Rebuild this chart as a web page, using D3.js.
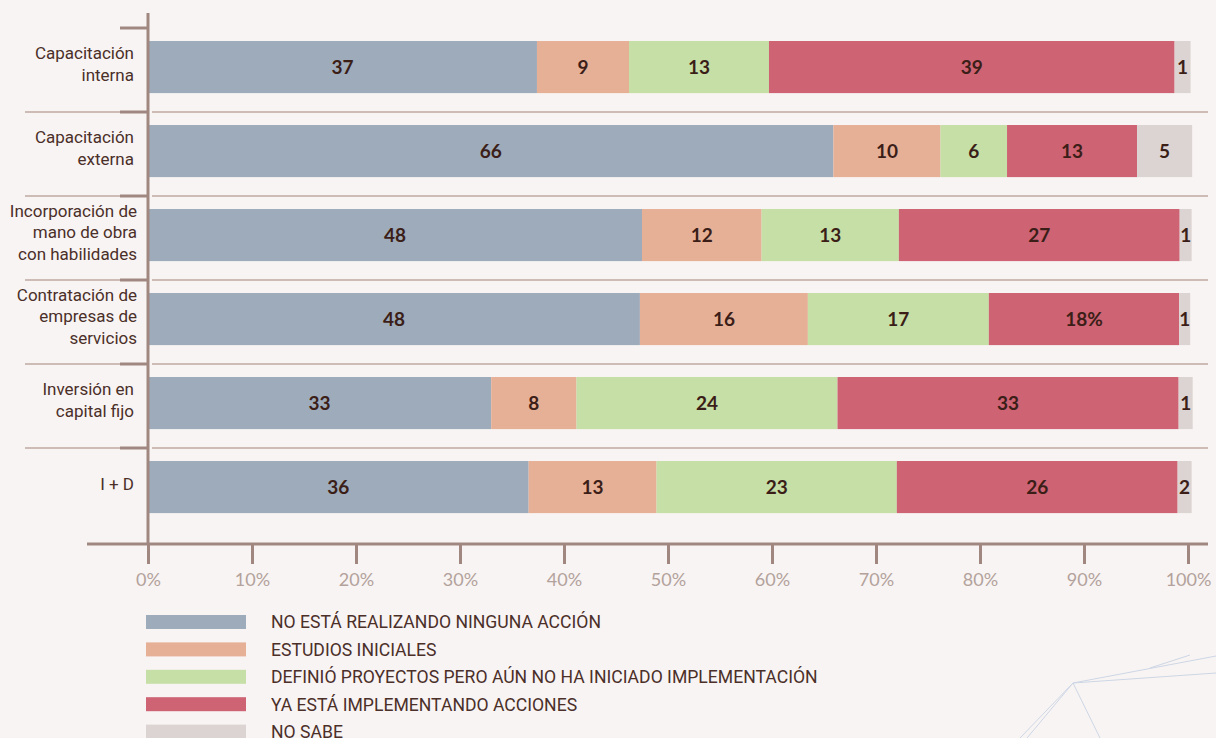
<!DOCTYPE html>
<html>
<head>
<meta charset="utf-8">
<script src="https://cdn.jsdelivr.net/npm/d3@7"></script>
<style>
  body { margin: 0; background: #f8f4f3; }
  svg { display: block; }
</style>
</head>
<body>
<div id="chart-area"></div>
<script>
// categorias (cada una partida en lineas como en el original)
var categories = [
    ["Capacitación", "interna"],
    ["Capacitación", "externa"],
    ["Incorporación de", "mano de obra", "con habilidades"],
    ["Contratación de", "empresas de", "servicios"],
    ["Inversión en", "capital fijo"],
    ["I + D"]
];

var seriesNames = [
    "NO ESTÁ REALIZANDO NINGUNA ACCIÓN",
    "ESTUDIOS INICIALES",
    "DEFINIÓ PROYECTOS PERO AÚN NO HA INICIADO IMPLEMENTACIÓN",
    "YA ESTÁ IMPLEMENTANDO ACCIONES",
    "NO SABE"
];

// largo de cada tramo (%)
var noAccion      = [37.4, 65.9, 47.5, 47.3, 33.0, 36.6];
var estudios      = [8.85, 10.3, 11.5, 16.15, 8.2, 12.3];
var definio       = [13.46, 6.4, 13.2, 17.4, 25.1, 23.1];
var implementando = [39.0, 12.5, 27.0, 18.3, 32.8, 27.0];
var noSabe        = [1.54, 5.3, 1.15, 1.06, 1.35, 1.35];

// numeros impresos dentro de las barras
var noAccionLbl      = ["37", "66", "48", "48", "33", "36"];
var estudiosLbl      = ["9", "10", "12", "16", "8", "13"];
var definioLbl       = ["13", "6", "13", "17", "24", "23"];
var implementandoLbl = ["39", "13", "27", "18%", "33", "26"];
var noSabeLbl        = ["1", "5", "1", "1", "1", "2"];

var xTicks = [0, 10, 20, 30, 40, 50, 60, 70, 80, 90, 100];

var colors = ["#9eabbb", "#e6b097", "#c5dfa6", "#cd6373", "#dcd4d3"];
var keys = ["noAccion", "estudios", "definio", "implementando", "noSabe"];
var allValues = [noAccion, estudios, definio, implementando, noSabe];
var allLabels = [noAccionLbl, estudiosLbl, definioLbl, implementandoLbl, noSabeLbl];

var W = 1216, H = 738;
var axisColor = "#a08880";
var textColor = "#4b2f29";

var svg = d3.select("#chart-area").append("svg")
    .attr("width", W)
    .attr("height", H);

// tabla para d3.stack
var table = categories.map((c, i) => {
    var row = { idx: i };
    keys.forEach((k, j) => { row[k] = allValues[j][i]; });
    return row;
});
var stacked = d3.stack().keys(keys)(table);

var x = d3.scaleLinear().domain([0, 100]).range([148, 1188]);
var y = d3.scaleBand()
    .domain(categories.map((c, i) => i))
    .range([28, 532])
    .paddingInner(0);

var barOffset = y.bandwidth() * 0.155;
var barH = y.bandwidth() * 0.62;
var axisY = 544;

// decoracion de la esquina
var deco = svg.append("g")
    .attr("stroke", "#cdd6e5")
    .attr("stroke-width", 1)
    .attr("fill", "none");
deco.append("path").attr("d", "M1073,683 L1216,656 M1073,683 L1216,673 M1073,683 L1020,738 M1073,683 L1027,738 M1073,683 L1100,738 M1150,668 L1190,655");

// separadores finos entre filas
var seps = y.domain().slice(1);
svg.selectAll(".sep-l").data(seps).enter().append("line")
    .attr("x1", 25).attr("x2", x(0) - 2)
    .attr("y1", d => y(d)).attr("y2", d => y(d))
    .attr("stroke", "#cdbcb6").attr("stroke-width", 2);
svg.selectAll(".sep-r").data(seps).enter().append("line")
    .attr("x1", x(0) + 4).attr("x2", x(100) + 20)
    .attr("y1", d => y(d)).attr("y2", d => y(d))
    .attr("stroke", "#cdbcb6").attr("stroke-width", 2);

// barras apiladas
var groups = svg.selectAll(".serie").data(stacked).enter().append("g")
    .attr("class", "serie")
    .attr("fill", (d, i) => colors[i]);

groups.selectAll("rect").data(d => d).enter().append("rect")
    .attr("x", d => x(d[0]))
    .attr("width", d => x(d[1]) - x(d[0]))
    .attr("y", d => y(d.data.idx) + barOffset)
    .attr("height", barH);

// numeros dentro de las barras
stacked.forEach((s, j) => {
    svg.append("g").selectAll("text").data(s).enter().append("text")
        .attr("x", d => (x(d[0]) + x(d[1])) / 2)
        .attr("y", d => y(d.data.idx) + barOffset + barH / 2)
        .attr("dy", "0.36em")
        .attr("text-anchor", "middle")
        .attr("font-family", "Lato, sans-serif")
        .attr("font-weight", "bold")
        .attr("font-size", "19px")
        .attr("fill", "#3b1e17")
        .text(d => allLabels[j][d.data.idx]);
});

// etiquetas de categorias
var lineH = 21.5;
categories.forEach((lines, i) => {
    var cy = y(i) + barOffset + barH / 2 - 3;
    var t = svg.append("text")
        .attr("text-anchor", "end")
        .attr("font-family", "Roboto, sans-serif")
        .attr("font-size", "17px")
        .attr("fill", textColor);
    lines.forEach((l, k) => {
        t.append("tspan")
            .attr("x", lines.length > 2 ? 137 : 134)
            .attr("y", cy + (k - (lines.length - 1) / 2) * lineH)
            .attr("dy", "0.35em")
            .text(l);
    });
});

// eje y: linea vertical y marcas cortas
svg.append("line")
    .attr("x1", x(0)).attr("x2", x(0))
    .attr("y1", 13).attr("y2", axisY)
    .attr("stroke", axisColor).attr("stroke-width", 3);
svg.selectAll(".ytick").data(y.domain()).enter().append("line")
    .attr("x1", 120).attr("x2", x(0))
    .attr("y1", d => y(d)).attr("y2", d => y(d))
    .attr("stroke", axisColor).attr("stroke-width", 3);

// eje x
svg.append("line")
    .attr("x1", 87).attr("x2", x(100) + 20)
    .attr("y1", axisY).attr("y2", axisY)
    .attr("stroke", axisColor).attr("stroke-width", 3);

var xAxisCall = d3.axisBottom(x)
    .tickValues(xTicks)
    .tickSize(20)
    .tickPadding(9)
    .tickFormat(d => d + "%");
var xAxisGroup = svg.append("g")
    .attr("transform", "translate(0," + axisY + ")")
    .call(xAxisCall);
xAxisGroup.select(".domain").remove();
xAxisGroup.selectAll(".tick line")
    .attr("stroke", axisColor).attr("stroke-width", 3);
xAxisGroup.selectAll(".tick text")
    .attr("font-family", "Lato, sans-serif")
    .attr("font-size", "18px")
    .attr("fill", "#b3a29c");

// leyenda
var legend = svg.append("g").attr("transform", "translate(146,615)");
var items = legend.selectAll("g").data(seriesNames).enter().append("g")
    .attr("transform", (d, i) => "translate(0," + (i * 27.4) + ")");
items.append("rect")
    .attr("width", 100).attr("height", 14)
    .attr("fill", (d, i) => colors[i]);
items.append("text")
    .attr("x", 125)
    .attr("y", 7)
    .attr("dy", "0.36em")
    .attr("font-family", "Roboto, sans-serif")
    .attr("font-size", "17.6px")
    .attr("fill", textColor)
    .text(d => d);
</script>
</body>
</html>
